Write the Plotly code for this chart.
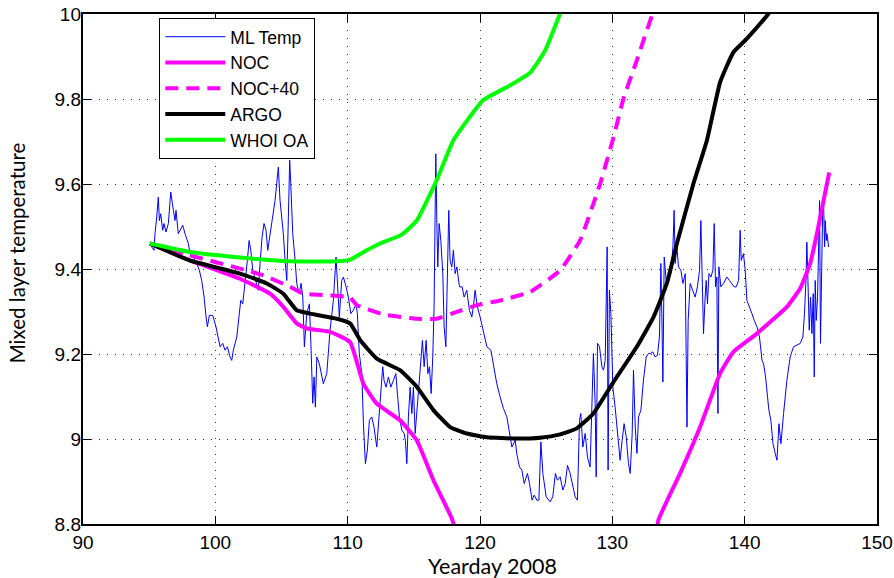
import plotly.graph_objects as go

# ---------------- data ----------------
ml_day = [
    95.07,95.19,95.37,95.44,95.57,95.69,95.77,95.87,96.02,96.12,
    96.27,96.45,96.63,96.73,96.83,96.95,97.03,97.20,97.33,97.54,
    97.71,97.96,98.09,98.34,98.59,98.79,98.97,99.15,99.30,99.40,
    99.55,99.80,100.05,100.23,100.36,100.56,100.73,100.91,101.11,101.24,
    101.36,101.62,101.81,101.92,102.07,102.25,102.42,102.55,102.68,102.83,
    103.08,103.25,103.38,103.53,103.68,103.83,103.96,104.14,104.34,104.51,
    104.64,104.76,104.89,105.14,105.27,105.40,105.52,105.62,105.70,105.85,
    106.03,106.15,106.33,106.48,106.61,106.73,106.91,107.11,107.24,107.36,
    107.46,107.56,107.67,107.86,
    108.16,108.42,108.67,108.92,109.12,109.22,109.37,109.55,109.68,109.88,
    110.05,110.24,110.43,110.64,110.73,110.88,111.07,111.19,111.34,111.49,
    111.64,111.82,111.99,112.20,112.35,112.50,112.65,112.75,112.90,113.08,
    113.26,113.46,113.64,113.76,113.91,114.09,114.27,114.36,114.47,114.59,
    114.72,114.85,114.97,115.10,115.27,115.42,115.55,115.65,115.78,115.93,
    116.06,116.18,116.31,116.43,116.53,116.61,116.66,116.74,116.81,116.91,
    117.04,117.19,117.29,117.42,117.52,117.64,117.74,117.87,117.99,118.12,
    118.25,118.45,118.65,118.80,119.00,119.20,119.38,119.50,119.63,119.80,
    120.01,
    120.26,120.52,120.82,121.02,121.27,121.52,121.77,122.03,122.22,122.41,
    122.66,122.78,122.98,123.16,123.34,123.59,123.74,123.94,124.09,124.30,
    124.45,124.60,124.75,125.00,125.30,125.50,125.70,125.85,126.06,126.26,
    126.44,126.61,126.81,127.02,127.19,127.36,127.52,127.62,127.77,127.95,
    128.12,128.32,128.45,128.57,128.70,128.78,128.88,129.03,129.21,129.33,
    129.46,129.53,129.61,129.68,129.78,129.89,130.04,130.21,130.39,130.59,
    130.74,130.89,131.05,131.22,131.35,131.50,131.60,131.73,131.86,131.98,
    132.16,132.35,132.56,132.73,
    132.86,133.06,133.24,133.41,133.56,133.67,133.74,133.82,133.92,134.07,
    134.24,134.42,134.58,134.67,134.75,134.88,135.00,135.18,135.33,135.51,
    135.64,135.73,135.88,136.09,136.26,136.43,136.59,136.69,136.79,136.89,
    137.00,137.09,137.19,137.30,137.45,137.60,137.70,137.80,137.90,137.98,
    138.05,138.20,138.40,138.66,138.85,139.04,139.21,139.36,139.54,139.66,
    139.74,139.91,140.04,140.17,140.37,140.55,140.72,140.93,141.12,141.31,
    141.43,141.58,141.73,141.83,141.98,142.14,142.31,142.44,142.59,142.74,
    142.94,143.19,143.44,143.69,143.95,144.20,144.40,144.52,144.63,144.70,
    144.78,144.88,144.98,145.08,145.18,145.26,145.33,145.41,145.51,145.58,
    145.66,145.73,145.81,145.89,145.96,146.04,146.09,146.17,146.22,146.34,
]
ml_temp = [
    9.463,9.452,9.444,9.483,9.522,9.569,9.514,9.530,9.491,9.507,
    9.487,9.507,9.581,9.554,9.538,9.514,9.538,9.483,9.491,9.503,
    9.483,9.460,9.436,9.428,9.413,9.397,9.373,9.334,9.287,9.264,
    9.291,9.291,9.264,9.240,9.217,9.225,9.209,9.217,9.193,9.185,
    9.209,9.240,9.287,9.326,9.318,9.366,9.420,9.467,9.444,9.397,
    9.366,9.350,9.413,9.475,9.507,9.491,9.444,9.483,9.522,9.561,
    9.601,9.640,9.561,9.483,9.420,9.373,9.522,9.656,9.601,9.483,
    9.420,9.366,9.342,9.366,9.334,9.217,9.295,9.318,9.209,9.084,
    9.146,9.075,9.193,9.177,
    9.130,9.154,9.256,9.326,9.428,9.373,9.287,9.373,9.381,9.358,
    9.334,9.295,9.303,9.318,9.295,9.201,9.154,9.036,8.942,8.974,
    9.044,9.052,9.028,8.981,9.052,9.107,9.170,9.138,9.122,9.146,
    9.122,9.138,9.154,9.107,9.052,9.021,9.013,8.997,8.942,9.052,
    9.122,9.060,9.122,9.013,9.075,9.138,9.193,9.232,9.170,9.232,
    9.154,9.170,9.107,9.193,9.311,9.467,9.671,9.507,9.405,9.507,
    9.467,9.389,9.264,9.217,9.389,9.538,9.420,9.405,9.444,9.389,
    9.405,9.358,9.358,9.334,9.350,9.303,9.287,9.311,9.350,9.311,
    9.287,
    9.256,9.217,9.209,9.170,9.130,9.099,9.072,9.052,9.013,8.981,
    8.997,8.966,8.934,8.927,8.895,8.919,8.895,8.856,8.868,8.856,
    8.856,8.993,8.919,8.864,8.852,8.864,8.919,8.903,8.911,8.880,
    8.895,8.938,8.919,8.887,8.864,8.856,9.044,9.060,8.981,9.013,
    8.958,8.934,9.060,9.201,9.084,8.911,9.225,9.217,9.170,9.162,
    9.185,9.279,9.452,8.927,9.350,9.295,9.122,9.075,9.013,8.950,
    8.997,9.036,9.005,8.942,8.919,9.013,9.162,9.028,8.966,9.052,
    9.068,9.138,9.193,9.201,
    9.201,9.205,9.193,9.197,9.240,9.413,9.295,9.134,9.428,9.373,
    9.381,9.389,9.452,9.538,9.413,9.452,9.405,9.397,9.366,9.389,
    9.028,9.279,9.366,9.350,9.334,9.358,9.397,9.514,9.389,9.248,
    9.326,9.373,9.318,9.389,9.381,9.397,9.507,9.358,9.381,9.060,
    9.405,9.358,9.366,9.381,9.373,9.366,9.358,9.358,9.373,9.491,
    9.420,9.436,9.397,9.326,9.311,9.295,9.279,9.264,9.240,9.185,
    9.177,9.146,9.099,9.068,9.044,8.989,8.966,8.950,9.036,8.989,
    9.060,9.138,9.193,9.217,9.221,9.225,9.240,9.295,9.373,9.463,
    9.373,9.256,9.334,9.248,9.342,9.146,9.373,9.279,9.334,9.428,
    9.561,9.225,9.389,9.530,9.561,9.452,9.514,9.467,9.483,9.452,
]

noc_day = [95.06, 98.09, 101.87, 104.13, 105.14, 106.15, 106.91, 108.67, 110.18,
           111.19, 112.20, 113.96, 115.22, 116.48, 117.87, 118.87, 126.0, 132.9,
           133.48, 135.12, 136.63, 138.14, 139.15, 140.92, 143.19, 144.19, 144.95,
           145.46, 145.96, 146.39]
noc_temp = [9.460, 9.420, 9.377, 9.342, 9.311, 9.272, 9.260, 9.252, 9.228,
            9.130, 9.083, 9.044, 8.997, 8.903, 8.813, 8.715, 8.45, 8.70,
            8.809, 8.919, 9.028, 9.154, 9.205, 9.248, 9.311, 9.354, 9.413,
            9.483, 9.561, 9.627]

noc40_day = [95.06, 98.09, 101.87, 103.63, 105.65, 106.65, 108.67, 110.18, 110.69,
             112.70, 115.22, 116.73, 118.25, 119.76, 121.52, 123.79, 126.06, 127.57,
             129.08, 130.09, 130.84, 131.85, 132.99, 133.3]
noc40_temp = [9.460, 9.432, 9.401, 9.385, 9.358, 9.342, 9.338, 9.333, 9.315,
              9.293, 9.283, 9.283, 9.299, 9.315, 9.326, 9.346, 9.397, 9.468,
              9.601, 9.710, 9.801, 9.891, 9.996, 10.02]

argo_day = [95.06, 98.09, 101.87, 103.89, 105.14, 106.15, 107.16, 109.18, 110.18,
            110.94, 112.20, 113.96, 115.22, 116.48, 117.74, 119.00, 120.51, 122.78,
            124.54, 126.06, 127.32, 128.57, 130.08, 131.85, 133.11, 134.12, 134.88,
            136.13, 137.15, 138.15, 139.15, 140.17, 141.68, 142.5]
argo_temp = [9.460, 9.420, 9.389, 9.366, 9.342, 9.303, 9.295, 9.283, 9.272,
             9.233, 9.189, 9.162, 9.123, 9.068, 9.028, 9.013, 9.004, 9.001,
             9.003, 9.011, 9.025, 9.060, 9.134, 9.217, 9.287, 9.366, 9.460,
             9.601, 9.703, 9.840, 9.910, 9.942, 9.996, 10.03]

whoi_day = [95.06, 98.09, 101.87, 105.65, 109.18, 110.18, 111.44, 112.45, 114.09,
            115.22, 116.73, 117.99, 120.23, 122.27, 123.79, 124.92, 126.10]
whoi_temp = [9.460, 9.440, 9.427, 9.418, 9.418, 9.422, 9.444, 9.460, 9.481,
             9.514, 9.609, 9.703, 9.797, 9.832, 9.862, 9.914, 10.005]

x_ticks = [90, 100, 110, 120, 130, 140, 150]
y_ticks = [8.8, 9.0, 9.2, 9.4, 9.6, 9.8, 10.0]
y_tick_text = ["8.8", "9", "9.2", "9.4", "9.6", "9.8", "10"]
y_range = [8.8, 10]

# ---------------- figure ----------------
MAG = "#ff00ff"
fig = go.Figure()
fig.add_trace(go.Scatter(x=ml_day, y=ml_temp, mode="lines", name="ML Temp",
                         line=dict(color="#0000ff", width=1)))
fig.add_trace(go.Scatter(x=noc_day, y=noc_temp, mode="lines", name="NOC",
                         line=dict(color=MAG, width=4, shape="spline", smoothing=0.4)))
fig.add_trace(go.Scatter(x=noc40_day, y=noc40_temp, mode="lines", name="NOC+40",
                         line=dict(color=MAG, width=4, dash="13px,8px",
                                   shape="spline", smoothing=0.4)))
fig.add_trace(go.Scatter(x=argo_day, y=argo_temp, mode="lines", name="ARGO",
                         line=dict(color="#000000", width=4, shape="spline", smoothing=0.4)))
fig.add_trace(go.Scatter(x=whoi_day, y=whoi_temp, mode="lines", name="WHOI OA",
                         line=dict(color="#00ff00", width=4, shape="spline", smoothing=0.4)))
# empty helper trace so the label-only y axis is rendered
fig.add_trace(go.Scatter(x=[], y=[], yaxis="y2", showlegend=False, hoverinfo="skip"))

tick_font = dict(family="Liberation Sans, Arial, sans-serif", size=19, color="black")
title_font = dict(family="Lato, Noto Sans, sans-serif", size=20.5, color="black")

axis_common = dict(
    showline=True, linecolor="black", linewidth=1.5, mirror="ticks",
    ticks="inside", ticklen=8, tickwidth=1, tickcolor="black",
    showgrid=True, gridcolor="#333333", gridwidth=1, griddash="1px,7px",
    zeroline=False, tickfont=tick_font, automargin=False,
)

fig.update_xaxes(range=[90, 150], tickvals=x_ticks, **axis_common)
fig.update_yaxes(range=y_range, tickvals=y_ticks, showticklabels=False, **axis_common)

fig.update_layout(
    width=894, height=578,
    margin=dict(l=83, r=17, t=14, b=54, pad=0, autoexpand=False),
    paper_bgcolor="white", plot_bgcolor="white",
    showlegend=True,
    yaxis2=dict(overlaying="y", anchor="free", position=0, side="left",
                range=y_range, tickvals=y_ticks, ticktext=y_tick_text,
                showline=False, showgrid=False, zeroline=False, ticks="",
                ticklabelstandoff=2, tickfont=tick_font, automargin=False),
    legend=dict(x=0.0961, y=0.9925, xanchor="left", yanchor="top",
                bgcolor="white", bordercolor="black", borderwidth=1,
                font=dict(family="Liberation Sans, Arial, sans-serif", size=17.5, color="black"),
                itemwidth=60, tracegroupgap=0),
    annotations=[
        dict(text="Yearday 2008", xref="paper", yref="paper", x=0.5157, y=-0.0823,
             xanchor="center", yanchor="middle", showarrow=False,
             font=dict(family="Lato, Noto Sans, sans-serif", size=21.5, color="black")),
        dict(text="Mixed layer temperature", xref="paper", yref="paper", x=-0.0831, y=0.5309,
             xanchor="center", yanchor="middle", textangle=-90, showarrow=False, font=title_font),
    ],
)

fig.write_html("out.html", config={"displayModeBar": False},
               post_script="document.body.style.margin='0px';")
